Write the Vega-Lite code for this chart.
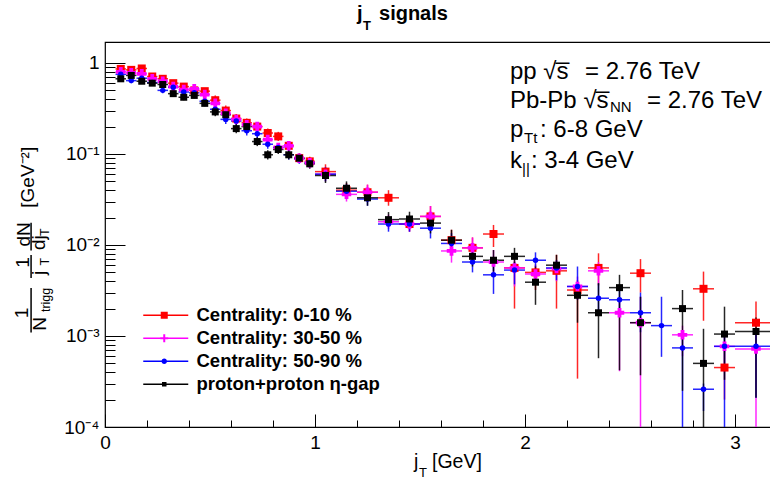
{
  "$schema": "https://vega.github.io/schema/vega-lite/v6.json",
  "width": 667,
  "height": 385,
  "autosize": {"type": "none"},
  "padding": {"left": 105, "top": 42, "right": 0, "bottom": 60},
  "background": "white",
  "config": {
    "view": {"stroke": "black", "strokeWidth": 1.2},
    "text": {"font": "Liberation Sans", "color": "black", "fontWeight": "normal"},
    "legend": {"orient": "none"}
  },
  "resolve": {"scale": {"color": "independent", "shape": "independent"}, "legend": {"color": "independent", "shape": "independent"}},
  "data": {"values": [
    {"s":"Centrality: 0-10 %","x":0.075,"xlo":0.05,"xhi":0.1,"y":0.86,"lo":0.8,"hi":0.92},
    {"s":"Centrality: 0-10 %","x":0.125,"xlo":0.1,"xhi":0.15,"y":0.84,"lo":0.78,"hi":0.9},
    {"s":"Centrality: 0-10 %","x":0.175,"xlo":0.15,"xhi":0.2,"y":0.87,"lo":0.81,"hi":0.93},
    {"s":"Centrality: 0-10 %","x":0.225,"xlo":0.2,"xhi":0.25,"y":0.71,"lo":0.66,"hi":0.76},
    {"s":"Centrality: 0-10 %","x":0.275,"xlo":0.25,"xhi":0.3,"y":0.67,"lo":0.62,"hi":0.72},
    {"s":"Centrality: 0-10 %","x":0.325,"xlo":0.3,"xhi":0.35,"y":0.6,"lo":0.56,"hi":0.64},
    {"s":"Centrality: 0-10 %","x":0.375,"xlo":0.35,"xhi":0.4,"y":0.55,"lo":0.51,"hi":0.59},
    {"s":"Centrality: 0-10 %","x":0.425,"xlo":0.4,"xhi":0.45,"y":0.5,"lo":0.465,"hi":0.535},
    {"s":"Centrality: 0-10 %","x":0.475,"xlo":0.45,"xhi":0.5,"y":0.49,"lo":0.455,"hi":0.525},
    {"s":"Centrality: 0-10 %","x":0.525,"xlo":0.5,"xhi":0.55,"y":0.39,"lo":0.35,"hi":0.44},
    {"s":"Centrality: 0-10 %","x":0.575,"xlo":0.55,"xhi":0.6,"y":0.3,"lo":0.27,"hi":0.34},
    {"s":"Centrality: 0-10 %","x":0.625,"xlo":0.6,"xhi":0.65,"y":0.245,"lo":0.22,"hi":0.275},
    {"s":"Centrality: 0-10 %","x":0.675,"xlo":0.65,"xhi":0.7,"y":0.22,"lo":0.196,"hi":0.246},
    {"s":"Centrality: 0-10 %","x":0.725,"xlo":0.7,"xhi":0.75,"y":0.2,"lo":0.178,"hi":0.224},
    {"s":"Centrality: 0-10 %","x":0.775,"xlo":0.75,"xhi":0.8,"y":0.17,"lo":0.151,"hi":0.19},
    {"s":"Centrality: 0-10 %","x":0.825,"xlo":0.8,"xhi":0.85,"y":0.156,"lo":0.139,"hi":0.175},
    {"s":"Centrality: 0-10 %","x":0.875,"xlo":0.85,"xhi":0.9,"y":0.123,"lo":0.109,"hi":0.138},
    {"s":"Centrality: 0-10 %","x":0.925,"xlo":0.9,"xhi":0.95,"y":0.09,"lo":0.08,"hi":0.101},
    {"s":"Centrality: 0-10 %","x":0.975,"xlo":0.95,"xhi":1.0,"y":0.083,"lo":0.074,"hi":0.093},
    {"s":"Centrality: 0-10 %","x":1.05,"xlo":1.0,"xhi":1.1,"y":0.064,"lo":0.053,"hi":0.077},
    {"s":"Centrality: 0-10 %","x":1.15,"xlo":1.1,"xhi":1.2,"y":0.04,"lo":0.033,"hi":0.048},
    {"s":"Centrality: 0-10 %","x":1.25,"xlo":1.2,"xhi":1.3,"y":0.038,"lo":0.032,"hi":0.046},
    {"s":"Centrality: 0-10 %","x":1.35,"xlo":1.3,"xhi":1.4,"y":0.033,"lo":0.027,"hi":0.04},
    {"s":"Centrality: 0-10 %","x":1.45,"xlo":1.4,"xhi":1.5,"y":0.017,"lo":0.014,"hi":0.0205},
    {"s":"Centrality: 0-10 %","x":1.55,"xlo":1.5,"xhi":1.6,"y":0.0206,"lo":0.0159,"hi":0.0268},
    {"s":"Centrality: 0-10 %","x":1.65,"xlo":1.6,"xhi":1.7,"y":0.0113,"lo":0.0087,"hi":0.0147},
    {"s":"Centrality: 0-10 %","x":1.75,"xlo":1.7,"xhi":1.8,"y":0.0093,"lo":0.0072,"hi":0.0121},
    {"s":"Centrality: 0-10 %","x":1.85,"xlo":1.8,"xhi":1.9,"y":0.0132,"lo":0.0095,"hi":0.0166},
    {"s":"Centrality: 0-10 %","x":1.95,"xlo":1.9,"xhi":2.0,"y":0.0056,"lo":0.002,"hi":0.0066},
    {"s":"Centrality: 0-10 %","x":2.05,"xlo":2.0,"xhi":2.1,"y":0.005,"lo":0.0032,"hi":0.0061},
    {"s":"Centrality: 0-10 %","x":2.15,"xlo":2.1,"xhi":2.2,"y":0.0052,"lo":0.002,"hi":0.0078},
    {"s":"Centrality: 0-10 %","x":2.25,"xlo":2.2,"xhi":2.3,"y":0.0032,"lo":0.00034,"hi":0.0041},
    {"s":"Centrality: 0-10 %","x":2.35,"xlo":2.3,"xhi":2.4,"y":0.0056,"lo":0.0036,"hi":0.0081},
    {"s":"Centrality: 0-10 %","x":2.55,"xlo":2.5,"xhi":2.6,"y":0.0049,"lo":0.003,"hi":0.007},
    {"s":"Centrality: 0-10 %","x":2.85,"xlo":2.8,"xhi":2.9,"y":0.0033,"lo":0.00147,"hi":0.0051},
    {"s":"Centrality: 0-10 %","x":2.95,"xlo":2.9,"xhi":3.0,"y":0.00045,"lo":0.0002,"hi":0.0008},
    {"s":"Centrality: 0-10 %","x":3.1,"xlo":3.0,"xhi":3.2,"y":0.0014,"lo":0.00116,"hi":0.0024},

    {"s":"Centrality: 30-50 %","x":0.075,"xlo":0.05,"xhi":0.1,"y":0.8,"lo":0.74,"hi":0.86},
    {"s":"Centrality: 30-50 %","x":0.125,"xlo":0.1,"xhi":0.15,"y":0.78,"lo":0.73,"hi":0.83},
    {"s":"Centrality: 30-50 %","x":0.175,"xlo":0.15,"xhi":0.2,"y":0.76,"lo":0.71,"hi":0.81},
    {"s":"Centrality: 30-50 %","x":0.225,"xlo":0.2,"xhi":0.25,"y":0.67,"lo":0.62,"hi":0.72},
    {"s":"Centrality: 30-50 %","x":0.275,"xlo":0.25,"xhi":0.3,"y":0.63,"lo":0.59,"hi":0.67},
    {"s":"Centrality: 30-50 %","x":0.325,"xlo":0.3,"xhi":0.35,"y":0.55,"lo":0.51,"hi":0.59},
    {"s":"Centrality: 30-50 %","x":0.375,"xlo":0.35,"xhi":0.4,"y":0.51,"lo":0.47,"hi":0.55},
    {"s":"Centrality: 30-50 %","x":0.425,"xlo":0.4,"xhi":0.45,"y":0.52,"lo":0.48,"hi":0.56},
    {"s":"Centrality: 30-50 %","x":0.475,"xlo":0.45,"xhi":0.5,"y":0.45,"lo":0.42,"hi":0.48},
    {"s":"Centrality: 30-50 %","x":0.525,"xlo":0.5,"xhi":0.55,"y":0.36,"lo":0.32,"hi":0.4},
    {"s":"Centrality: 30-50 %","x":0.575,"xlo":0.55,"xhi":0.6,"y":0.28,"lo":0.25,"hi":0.31},
    {"s":"Centrality: 30-50 %","x":0.625,"xlo":0.6,"xhi":0.65,"y":0.24,"lo":0.214,"hi":0.27},
    {"s":"Centrality: 30-50 %","x":0.675,"xlo":0.65,"xhi":0.7,"y":0.21,"lo":0.187,"hi":0.235},
    {"s":"Centrality: 30-50 %","x":0.725,"xlo":0.7,"xhi":0.75,"y":0.2,"lo":0.178,"hi":0.224},
    {"s":"Centrality: 30-50 %","x":0.775,"xlo":0.75,"xhi":0.8,"y":0.144,"lo":0.128,"hi":0.161},
    {"s":"Centrality: 30-50 %","x":0.825,"xlo":0.8,"xhi":0.85,"y":0.118,"lo":0.105,"hi":0.132},
    {"s":"Centrality: 30-50 %","x":0.875,"xlo":0.85,"xhi":0.9,"y":0.123,"lo":0.109,"hi":0.138},
    {"s":"Centrality: 30-50 %","x":0.925,"xlo":0.9,"xhi":0.95,"y":0.09,"lo":0.08,"hi":0.101},
    {"s":"Centrality: 30-50 %","x":0.975,"xlo":0.95,"xhi":1.0,"y":0.08,"lo":0.071,"hi":0.09},
    {"s":"Centrality: 30-50 %","x":1.05,"xlo":1.0,"xhi":1.1,"y":0.06,"lo":0.05,"hi":0.072},
    {"s":"Centrality: 30-50 %","x":1.15,"xlo":1.1,"xhi":1.2,"y":0.036,"lo":0.03,"hi":0.043},
    {"s":"Centrality: 30-50 %","x":1.25,"xlo":1.2,"xhi":1.3,"y":0.038,"lo":0.032,"hi":0.046},
    {"s":"Centrality: 30-50 %","x":1.35,"xlo":1.3,"xhi":1.4,"y":0.018,"lo":0.015,"hi":0.0216},
    {"s":"Centrality: 30-50 %","x":1.45,"xlo":1.4,"xhi":1.5,"y":0.017,"lo":0.014,"hi":0.0205},
    {"s":"Centrality: 30-50 %","x":1.55,"xlo":1.5,"xhi":1.6,"y":0.0206,"lo":0.0159,"hi":0.0268},
    {"s":"Centrality: 30-50 %","x":1.65,"xlo":1.6,"xhi":1.7,"y":0.0086,"lo":0.0064,"hi":0.0111},
    {"s":"Centrality: 30-50 %","x":1.75,"xlo":1.7,"xhi":1.8,"y":0.0093,"lo":0.0072,"hi":0.0121},
    {"s":"Centrality: 30-50 %","x":1.85,"xlo":1.8,"xhi":1.9,"y":0.0065,"lo":0.0045,"hi":0.0088},
    {"s":"Centrality: 30-50 %","x":1.95,"xlo":1.9,"xhi":2.0,"y":0.0056,"lo":0.0035,"hi":0.0068},
    {"s":"Centrality: 30-50 %","x":2.05,"xlo":2.0,"xhi":2.1,"y":0.0048,"lo":0.004,"hi":0.0058},
    {"s":"Centrality: 30-50 %","x":2.15,"xlo":2.1,"xhi":2.2,"y":0.0055,"lo":0.004,"hi":0.0068},
    {"s":"Centrality: 30-50 %","x":2.25,"xlo":2.2,"xhi":2.3,"y":0.0035,"lo":0.0025,"hi":0.0045},
    {"s":"Centrality: 30-50 %","x":2.35,"xlo":2.3,"xhi":2.4,"y":0.0052,"lo":0.0038,"hi":0.0065},
    {"s":"Centrality: 30-50 %","x":2.45,"xlo":2.4,"xhi":2.5,"y":0.0018,"lo":0.00041,"hi":0.0025},
    {"s":"Centrality: 30-50 %","x":2.55,"xlo":2.5,"xhi":2.6,"y":0.0014,"lo":0.00005,"hi":0.0027},
    {"s":"Centrality: 30-50 %","x":2.75,"xlo":2.7,"xhi":2.8,"y":0.00103,"lo":0.0006,"hi":0.0013},
    {"s":"Centrality: 30-50 %","x":2.95,"xlo":2.9,"xhi":3.0,"y":0.00077,"lo":0.0004,"hi":0.0011},
    {"s":"Centrality: 30-50 %","x":3.1,"xlo":3.0,"xhi":3.2,"y":0.00072,"lo":0.00005,"hi":0.0011},

    {"s":"Centrality: 50-90 %","x":0.075,"xlo":0.05,"xhi":0.1,"y":0.75,"lo":0.7,"hi":0.8},
    {"s":"Centrality: 50-90 %","x":0.125,"xlo":0.1,"xhi":0.15,"y":0.64,"lo":0.6,"hi":0.68},
    {"s":"Centrality: 50-90 %","x":0.175,"xlo":0.15,"xhi":0.2,"y":0.68,"lo":0.63,"hi":0.73},
    {"s":"Centrality: 50-90 %","x":0.225,"xlo":0.2,"xhi":0.25,"y":0.61,"lo":0.57,"hi":0.65},
    {"s":"Centrality: 50-90 %","x":0.275,"xlo":0.25,"xhi":0.3,"y":0.5,"lo":0.465,"hi":0.535},
    {"s":"Centrality: 50-90 %","x":0.325,"xlo":0.3,"xhi":0.35,"y":0.54,"lo":0.5,"hi":0.58},
    {"s":"Centrality: 50-90 %","x":0.375,"xlo":0.35,"xhi":0.4,"y":0.48,"lo":0.45,"hi":0.51},
    {"s":"Centrality: 50-90 %","x":0.425,"xlo":0.4,"xhi":0.45,"y":0.47,"lo":0.44,"hi":0.5},
    {"s":"Centrality: 50-90 %","x":0.475,"xlo":0.45,"xhi":0.5,"y":0.38,"lo":0.35,"hi":0.41},
    {"s":"Centrality: 50-90 %","x":0.525,"xlo":0.5,"xhi":0.55,"y":0.31,"lo":0.28,"hi":0.35},
    {"s":"Centrality: 50-90 %","x":0.575,"xlo":0.55,"xhi":0.6,"y":0.24,"lo":0.214,"hi":0.27},
    {"s":"Centrality: 50-90 %","x":0.625,"xlo":0.6,"xhi":0.65,"y":0.23,"lo":0.205,"hi":0.26},
    {"s":"Centrality: 50-90 %","x":0.675,"xlo":0.65,"xhi":0.7,"y":0.18,"lo":0.16,"hi":0.2},
    {"s":"Centrality: 50-90 %","x":0.725,"xlo":0.7,"xhi":0.75,"y":0.167,"lo":0.149,"hi":0.187},
    {"s":"Centrality: 50-90 %","x":0.775,"xlo":0.75,"xhi":0.8,"y":0.128,"lo":0.114,"hi":0.143},
    {"s":"Centrality: 50-90 %","x":0.825,"xlo":0.8,"xhi":0.85,"y":0.118,"lo":0.105,"hi":0.132},
    {"s":"Centrality: 50-90 %","x":0.875,"xlo":0.85,"xhi":0.9,"y":0.098,"lo":0.087,"hi":0.11},
    {"s":"Centrality: 50-90 %","x":0.925,"xlo":0.9,"xhi":0.95,"y":0.088,"lo":0.078,"hi":0.099},
    {"s":"Centrality: 50-90 %","x":0.975,"xlo":0.95,"xhi":1.0,"y":0.08,"lo":0.071,"hi":0.09},
    {"s":"Centrality: 50-90 %","x":1.05,"xlo":1.0,"xhi":1.1,"y":0.06,"lo":0.05,"hi":0.072},
    {"s":"Centrality: 50-90 %","x":1.15,"xlo":1.1,"xhi":1.2,"y":0.039,"lo":0.032,"hi":0.047},
    {"s":"Centrality: 50-90 %","x":1.25,"xlo":1.2,"xhi":1.3,"y":0.032,"lo":0.027,"hi":0.038},
    {"s":"Centrality: 50-90 %","x":1.35,"xlo":1.3,"xhi":1.4,"y":0.017,"lo":0.014,"hi":0.0204},
    {"s":"Centrality: 50-90 %","x":1.45,"xlo":1.4,"xhi":1.5,"y":0.017,"lo":0.014,"hi":0.0204},
    {"s":"Centrality: 50-90 %","x":1.55,"xlo":1.5,"xhi":1.6,"y":0.0153,"lo":0.0118,"hi":0.0199},
    {"s":"Centrality: 50-90 %","x":1.65,"xlo":1.6,"xhi":1.7,"y":0.0104,"lo":0.008,"hi":0.0135},
    {"s":"Centrality: 50-90 %","x":1.75,"xlo":1.7,"xhi":1.8,"y":0.0065,"lo":0.005,"hi":0.0085},
    {"s":"Centrality: 50-90 %","x":1.85,"xlo":1.8,"xhi":1.9,"y":0.0047,"lo":0.0029,"hi":0.0065},
    {"s":"Centrality: 50-90 %","x":1.95,"xlo":1.9,"xhi":2.0,"y":0.0053,"lo":0.0037,"hi":0.0065},
    {"s":"Centrality: 50-90 %","x":2.05,"xlo":2.0,"xhi":2.1,"y":0.0068,"lo":0.0057,"hi":0.0083},
    {"s":"Centrality: 50-90 %","x":2.15,"xlo":2.1,"xhi":2.2,"y":0.0056,"lo":0.0041,"hi":0.0068},
    {"s":"Centrality: 50-90 %","x":2.25,"xlo":2.2,"xhi":2.3,"y":0.0035,"lo":0.0025,"hi":0.0058},
    {"s":"Centrality: 50-90 %","x":2.35,"xlo":2.3,"xhi":2.4,"y":0.0026,"lo":0.0017,"hi":0.0038},
    {"s":"Centrality: 50-90 %","x":2.45,"xlo":2.4,"xhi":2.5,"y":0.0025,"lo":0.0019,"hi":0.0032},
    {"s":"Centrality: 50-90 %","x":2.55,"xlo":2.5,"xhi":2.6,"y":0.0018,"lo":0.0011,"hi":0.003},
    {"s":"Centrality: 50-90 %","x":2.65,"xlo":2.6,"xhi":2.7,"y":0.0013,"lo":0.00059,"hi":0.0027},
    {"s":"Centrality: 50-90 %","x":2.75,"xlo":2.7,"xhi":2.8,"y":0.00074,"lo":0.00005,"hi":0.0011},
    {"s":"Centrality: 50-90 %","x":2.85,"xlo":2.8,"xhi":2.9,"y":0.00026,"lo":0.00015,"hi":0.0003},
    {"s":"Centrality: 50-90 %","x":2.95,"xlo":2.9,"xhi":3.0,"y":0.00077,"lo":0.00005,"hi":0.0011},
    {"s":"Centrality: 50-90 %","x":3.1,"xlo":3.0,"xhi":3.2,"y":0.00077,"lo":0.00021,"hi":0.0011},

    {"s":"proton+proton η-gap","x":0.075,"xlo":0.05,"xhi":0.1,"y":0.67,"lo":0.62,"hi":0.72},
    {"s":"proton+proton η-gap","x":0.125,"xlo":0.1,"xhi":0.15,"y":0.73,"lo":0.68,"hi":0.78},
    {"s":"proton+proton η-gap","x":0.175,"xlo":0.15,"xhi":0.2,"y":0.63,"lo":0.59,"hi":0.67},
    {"s":"proton+proton η-gap","x":0.225,"xlo":0.2,"xhi":0.25,"y":0.6,"lo":0.56,"hi":0.64},
    {"s":"proton+proton η-gap","x":0.275,"xlo":0.25,"xhi":0.3,"y":0.58,"lo":0.54,"hi":0.62},
    {"s":"proton+proton η-gap","x":0.325,"xlo":0.3,"xhi":0.35,"y":0.46,"lo":0.43,"hi":0.49},
    {"s":"proton+proton η-gap","x":0.375,"xlo":0.35,"xhi":0.4,"y":0.42,"lo":0.39,"hi":0.45},
    {"s":"proton+proton η-gap","x":0.425,"xlo":0.4,"xhi":0.45,"y":0.44,"lo":0.41,"hi":0.47},
    {"s":"proton+proton η-gap","x":0.475,"xlo":0.45,"xhi":0.5,"y":0.36,"lo":0.335,"hi":0.385},
    {"s":"proton+proton η-gap","x":0.525,"xlo":0.5,"xhi":0.55,"y":0.29,"lo":0.26,"hi":0.325},
    {"s":"proton+proton η-gap","x":0.575,"xlo":0.55,"xhi":0.6,"y":0.27,"lo":0.24,"hi":0.3},
    {"s":"proton+proton η-gap","x":0.625,"xlo":0.6,"xhi":0.65,"y":0.19,"lo":0.169,"hi":0.213},
    {"s":"proton+proton η-gap","x":0.675,"xlo":0.65,"xhi":0.7,"y":0.2,"lo":0.178,"hi":0.224},
    {"s":"proton+proton η-gap","x":0.725,"xlo":0.7,"xhi":0.75,"y":0.137,"lo":0.122,"hi":0.153},
    {"s":"proton+proton η-gap","x":0.775,"xlo":0.75,"xhi":0.8,"y":0.098,"lo":0.087,"hi":0.11},
    {"s":"proton+proton η-gap","x":0.825,"xlo":0.8,"xhi":0.85,"y":0.112,"lo":0.1,"hi":0.125},
    {"s":"proton+proton η-gap","x":0.875,"xlo":0.85,"xhi":0.9,"y":0.098,"lo":0.087,"hi":0.11},
    {"s":"proton+proton η-gap","x":0.925,"xlo":0.9,"xhi":0.95,"y":0.09,"lo":0.08,"hi":0.101},
    {"s":"proton+proton η-gap","x":0.975,"xlo":0.95,"xhi":1.0,"y":0.078,"lo":0.069,"hi":0.087},
    {"s":"proton+proton η-gap","x":1.05,"xlo":1.0,"xhi":1.1,"y":0.058,"lo":0.048,"hi":0.07},
    {"s":"proton+proton η-gap","x":1.15,"xlo":1.1,"xhi":1.2,"y":0.042,"lo":0.035,"hi":0.05},
    {"s":"proton+proton η-gap","x":1.25,"xlo":1.2,"xhi":1.3,"y":0.033,"lo":0.027,"hi":0.04},
    {"s":"proton+proton η-gap","x":1.35,"xlo":1.3,"xhi":1.4,"y":0.019,"lo":0.016,"hi":0.023},
    {"s":"proton+proton η-gap","x":1.45,"xlo":1.4,"xhi":1.5,"y":0.0193,"lo":0.016,"hi":0.0232},
    {"s":"proton+proton η-gap","x":1.55,"xlo":1.5,"xhi":1.6,"y":0.0174,"lo":0.0134,"hi":0.0226},
    {"s":"proton+proton η-gap","x":1.65,"xlo":1.6,"xhi":1.7,"y":0.0113,"lo":0.0087,"hi":0.0147},
    {"s":"proton+proton η-gap","x":1.75,"xlo":1.7,"xhi":1.8,"y":0.0075,"lo":0.0058,"hi":0.0098},
    {"s":"proton+proton η-gap","x":1.85,"xlo":1.8,"xhi":1.9,"y":0.0068,"lo":0.0051,"hi":0.0088},
    {"s":"proton+proton η-gap","x":1.95,"xlo":1.9,"xhi":2.0,"y":0.0075,"lo":0.0057,"hi":0.0093},
    {"s":"proton+proton η-gap","x":2.05,"xlo":2.0,"xhi":2.1,"y":0.0039,"lo":0.0022,"hi":0.0058},
    {"s":"proton+proton η-gap","x":2.15,"xlo":2.1,"xhi":2.2,"y":0.006,"lo":0.005,"hi":0.0078},
    {"s":"proton+proton η-gap","x":2.25,"xlo":2.2,"xhi":2.3,"y":0.0028,"lo":0.0014,"hi":0.0034},
    {"s":"proton+proton η-gap","x":2.35,"xlo":2.3,"xhi":2.4,"y":0.0018,"lo":0.00057,"hi":0.0038},
    {"s":"proton+proton η-gap","x":2.45,"xlo":2.4,"xhi":2.5,"y":0.0034,"lo":0.00042,"hi":0.0047},
    {"s":"proton+proton η-gap","x":2.55,"xlo":2.5,"xhi":2.6,"y":0.0014,"lo":0.00037,"hi":0.0027},
    {"s":"proton+proton η-gap","x":2.75,"xlo":2.7,"xhi":2.8,"y":0.002,"lo":0.00025,"hi":0.0032},
    {"s":"proton+proton η-gap","x":2.85,"xlo":2.8,"xhi":2.9,"y":0.0005,"lo":0.00005,"hi":0.0012},
    {"s":"proton+proton η-gap","x":2.95,"xlo":2.9,"xhi":3.0,"y":0.00105,"lo":0.00033,"hi":0.0021},
    {"s":"proton+proton η-gap","x":3.1,"xlo":3.0,"xhi":3.2,"y":0.00112,"lo":0.00021,"hi":0.0016}
  ]},
  "layer": [
    {
      "mark": {"type": "rule", "clip": true, "strokeWidth": 1.5, "opacity": 0.85},
      "encoding": {
        "x": {"field": "x", "type": "quantitative",
          "scale": {"domain": [0, 3.17619], "nice": false, "zero": false},
          "axis": {
            "values": [0,0.2,0.4,0.6,0.8,1,1.2,1.4,1.6,1.8,2,2.2,2.4,2.6,2.8,3],
            "labelExpr": "datum.value % 1 === 0 ? format(datum.value, 'd') : ''",
            "title": null, "grid": false, "domain": false,
            "tickColor": "black", "tickWidth": 1,
            "tickSize": {"condition": {"test": "datum.value % 1 === 0", "value": -13}, "value": -7},
            "labelPadding": 19, "labelFont": "Liberation Sans", "labelFontSize": 19,
            "labelColor": "black", "labelFlush": false, "labelOverlap": false
          }},
        "y": {"field": "lo", "type": "quantitative",
          "scale": {"type": "log", "domain": [0.0001, 1.7], "nice": false},
          "axis": {
            "values": [0.0001,0.0002,0.0003,0.0004,0.0005,0.0006,0.0007,0.0008,0.0009,0.001,0.002,0.003,0.004,0.005,0.006,0.007,0.008,0.009,0.01,0.02,0.03,0.04,0.05,0.06,0.07,0.08,0.09,0.1,0.2,0.3,0.4,0.5,0.6,0.7,0.8,0.9,1],
            "labelExpr": "datum.value === 1 ? '1' : datum.value === 0.1 ? '10⁻¹' : datum.value === 0.01 ? '10⁻²' : datum.value === 0.001 ? '10⁻³' : datum.value === 0.0001 ? '10⁻⁴' : ''",
            "title": null, "grid": false, "domain": false,
            "tickColor": "black", "tickWidth": 1,
            "tickSize": {"condition": {"test": "datum.value === 1 || datum.value === 0.1 || datum.value === 0.01 || datum.value === 0.001 || datum.value === 0.0001", "value": -20}, "value": -10},
            "labelPadding": 26, "labelFont": "Liberation Sans", "labelFontSize": 19,
            "labelColor": "black", "labelFlush": false, "labelOverlap": false
          }},
        "y2": {"field": "hi"},
        "color": {"field": "s", "type": "nominal",
          "scale": {"domain": ["Centrality: 0-10 %", "Centrality: 30-50 %", "Centrality: 50-90 %", "proton+proton η-gap"],
                    "range": ["#ff0000", "#ff00ff", "#0000ff", "#000000"]},
          "legend": null}
      }
    },
    {
      "mark": {"type": "rule", "clip": true, "strokeWidth": 1.5, "opacity": 0.85},
      "encoding": {
        "x": {"field": "xlo", "type": "quantitative"},
        "x2": {"field": "xhi"},
        "y": {"field": "y", "type": "quantitative"},
        "color": {"field": "s", "type": "nominal",
          "scale": {"domain": ["Centrality: 0-10 %", "Centrality: 30-50 %", "Centrality: 50-90 %", "proton+proton η-gap"],
                    "range": ["#ff0000", "#ff00ff", "#0000ff", "#000000"]},
          "legend": null}
      }
    },
    {
      "transform": [{"filter": "datum.s === 'Centrality: 0-10 %'"}],
      "mark": {"type": "point", "shape": "square", "size": 64, "filled": true, "opacity": 1, "color": "#ff0000", "clip": true},
      "encoding": {"x": {"field": "x", "type": "quantitative"}, "y": {"field": "y", "type": "quantitative"}}
    },
    {
      "transform": [{"filter": "datum.s === 'Centrality: 30-50 %'"}],
      "mark": {"type": "point", "shape": "cross", "size": 90, "filled": true, "opacity": 1, "color": "#ff00ff", "clip": true},
      "encoding": {"x": {"field": "x", "type": "quantitative"}, "y": {"field": "y", "type": "quantitative"}}
    },
    {
      "transform": [{"filter": "datum.s === 'Centrality: 50-90 %'"}],
      "mark": {"type": "point", "shape": "circle", "size": 30, "filled": true, "opacity": 1, "color": "#0000ff", "clip": true},
      "encoding": {"x": {"field": "x", "type": "quantitative"}, "y": {"field": "y", "type": "quantitative"}}
    },
    {
      "transform": [{"filter": "datum.s === 'proton+proton η-gap'"}],
      "mark": {"type": "point", "shape": "square", "size": 49, "filled": true, "opacity": 1, "color": "#000000", "clip": true},
      "encoding": {"x": {"field": "x", "type": "quantitative"}, "y": {"field": "y", "type": "quantitative"}}
    },
    {
      "data": {"values": [{"s": "Centrality: 0-10 %"}, {"s": "Centrality: 30-50 %"}, {"s": "Centrality: 50-90 %"}, {"s": "proton+proton η-gap"}]},
      "mark": {"type": "point", "filled": true, "opacity": 1, "clip": true},
      "encoding": {
        "x": {"datum": 10},
        "y": {"datum": 1},
        "color": {"field": "s", "type": "nominal",
          "scale": {"domain": ["Centrality: 0-10 %", "Centrality: 30-50 %", "Centrality: 50-90 %", "proton+proton η-gap"],
                    "range": ["#ff0000", "#ff00ff", "#0000ff", "#000000"]},
          "legend": {
            "title": null, "orient": "none", "legendX": 67, "legendY": 264,
            "padding": 0, "labelFont": "Liberation Sans", "labelFontSize": 18.5, "labelFontWeight": "bold",
            "labelColor": "black", "labelLimit": 0, "symbolSize": 100, "labelOffset": 6, "rowPadding": 4,
            "symbolStrokeWidth": 0, "symbolOpacity": 1
          }},
        "shape": {"field": "s", "type": "nominal",
          "scale": {"domain": ["Centrality: 0-10 %", "Centrality: 30-50 %", "Centrality: 50-90 %", "proton+proton η-gap"],
                    "range": [
                      "M-7.6,-0.14H1.4V0.14H-7.6Z M-4.1,-0.7H-2.7V0.7H-4.1Z",
                      "M-7.6,-0.14H1.4V0.14H-7.6Z M-3.6,-0.8H-3.2V0.8H-3.6Z M-4.2,-0.22H-2.6V0.22H-4.2Z",
                      "M-7.6,-0.14H1.4V0.14H-7.6Z M-2.85,0A0.55,0.55,0,1,1,-3.95,0A0.55,0.55,0,1,1,-2.85,0Z",
                      "M-7.6,-0.14H1.4V0.14H-7.6Z M-3.85,-0.45H-2.95V0.45H-3.85Z"
                    ]},
          "legend": {
            "title": null, "orient": "none", "legendX": 67, "legendY": 264,
            "padding": 0, "labelFont": "Liberation Sans", "labelFontSize": 18.5, "labelFontWeight": "bold",
            "labelColor": "black", "labelLimit": 0, "symbolSize": 100, "labelOffset": 6, "rowPadding": 4,
            "symbolStrokeWidth": 0, "symbolOpacity": 1
          }}
      }
    },

    {"data": {"values": [{}]}, "mark": {"type": "text", "fontSize": 20, "fontWeight": "bold", "align": "left", "baseline": "alphabetic"},
     "encoding": {"x": {"datum": 1.2}, "y": {"datum": 2.969}, "text": {"value": "j"}}},
    {"data": {"values": [{}]}, "mark": {"type": "text", "fontSize": 13, "fontWeight": "bold", "align": "left", "baseline": "alphabetic"},
     "encoding": {"x": {"datum": 1.2286}, "y": {"datum": 2.305}, "text": {"value": "T"}}},
    {"data": {"values": [{}]}, "mark": {"type": "text", "fontSize": 20, "fontWeight": "bold", "align": "left", "baseline": "alphabetic"},
     "encoding": {"x": {"datum": 1.3048}, "y": {"datum": 2.969}, "text": {"value": "signals"}}},

    {"data": {"values": [{}]}, "mark": {"type": "text", "fontSize": 19.5, "align": "left", "baseline": "alphabetic"},
     "encoding": {"x": {"datum": 1.4714}, "y": {"datum": 0.000035}, "text": {"value": "j"}}},
    {"data": {"values": [{}]}, "mark": {"type": "text", "fontSize": 13, "align": "left", "baseline": "alphabetic"},
     "encoding": {"x": {"datum": 1.4952}, "y": {"datum": 0.0000282}, "text": {"value": "T"}}},
    {"data": {"values": [{}]}, "mark": {"type": "text", "fontSize": 19.5, "align": "left", "baseline": "alphabetic"},
     "encoding": {"x": {"datum": 1.5571}, "y": {"datum": 0.000035}, "text": {"value": "[GeV]"}}},

    {"data": {"values": [{}]}, "mark": {"type": "text", "fontSize": 19, "angle": 270, "align": "center", "baseline": "middle"},
     "encoding": {"x": {"datum": -0.393}, "y": {"datum": 0.00179}, "text": {"value": "1"}}},
    {"data": {"values": [{}]}, "mark": {"type": "rule", "strokeWidth": 1.5, "color": "black"},
     "encoding": {"x": {"datum": -0.352}, "y": {"datum": 0.00337}, "y2": {"datum": 0.00109}}},
    {"data": {"values": [{}]}, "mark": {"type": "text", "fontSize": 19, "angle": 270, "align": "center", "baseline": "middle"},
     "encoding": {"x": {"datum": -0.309}, "y": {"datum": 0.00136}, "text": {"value": "N"}}},
    {"data": {"values": [{}]}, "mark": {"type": "text", "fontSize": 12.5, "angle": 270, "align": "center", "baseline": "middle"},
     "encoding": {"x": {"datum": -0.28}, "y": {"datum": 0.00249}, "text": {"value": "trigg"}}},

    {"data": {"values": [{}]}, "mark": {"type": "text", "fontSize": 19, "angle": 270, "align": "center", "baseline": "middle"},
     "encoding": {"x": {"datum": -0.39}, "y": {"datum": 0.00643}, "text": {"value": "1"}}},
    {"data": {"values": [{}]}, "mark": {"type": "rule", "strokeWidth": 1.5, "color": "black"},
     "encoding": {"x": {"datum": -0.352}, "y": {"datum": 0.00776}, "y2": {"datum": 0.00435}}},
    {"data": {"values": [{}]}, "mark": {"type": "text", "fontSize": 19, "angle": 270, "align": "center", "baseline": "middle"},
     "encoding": {"x": {"datum": -0.313}, "y": {"datum": 0.00495}, "text": {"value": "j"}}},
    {"data": {"values": [{}]}, "mark": {"type": "text", "fontSize": 12.5, "angle": 270, "align": "center", "baseline": "middle"},
     "encoding": {"x": {"datum": -0.285}, "y": {"datum": 0.00655}, "text": {"value": "T"}}},

    {"data": {"values": [{}]}, "mark": {"type": "text", "fontSize": 19, "angle": 270, "align": "center", "baseline": "middle"},
     "encoding": {"x": {"datum": -0.386}, "y": {"datum": 0.0131}, "text": {"value": "dN"}}},
    {"data": {"values": [{}]}, "mark": {"type": "rule", "strokeWidth": 1.5, "color": "black"},
     "encoding": {"x": {"datum": -0.352}, "y": {"datum": 0.0175}, "y2": {"datum": 0.0087}}},
    {"data": {"values": [{}]}, "mark": {"type": "text", "fontSize": 19, "angle": 270, "align": "center", "baseline": "middle"},
     "encoding": {"x": {"datum": -0.313}, "y": {"datum": 0.0106}, "text": {"value": "dj"}}},
    {"data": {"values": [{}]}, "mark": {"type": "text", "fontSize": 12.5, "angle": 270, "align": "center", "baseline": "middle"},
     "encoding": {"x": {"datum": -0.285}, "y": {"datum": 0.0138}, "text": {"value": "T"}}},

    {"data": {"values": [{}]}, "mark": {"type": "text", "fontSize": 19, "angle": 270, "align": "center", "baseline": "middle"},
     "encoding": {"x": {"datum": -0.367}, "y": {"datum": 0.0555}, "text": {"value": "[GeV⁻²]"}}},

    {"data": {"values": [{}]}, "mark": {"type": "text", "fontSize": 24, "align": "left", "baseline": "alphabetic"},
     "encoding": {"x": {"datum": 1.9286}, "y": {"datum": 0.667}, "text": {"value": "pp √s̅"}}},
    {"data": {"values": [{}]}, "mark": {"type": "text", "fontSize": 24, "align": "right", "baseline": "alphabetic"},
     "encoding": {"x": {"datum": 2.8333}, "y": {"datum": 0.667}, "text": {"value": "= 2.76 TeV"}}},
    {"data": {"values": [{}]}, "mark": {"type": "text", "fontSize": 24, "align": "left", "baseline": "alphabetic"},
     "encoding": {"x": {"datum": 1.9286}, "y": {"datum": 0.32}, "text": {"value": "Pb-Pb √s̅"}}},
    {"data": {"values": [{}]}, "mark": {"type": "text", "fontSize": 15, "align": "left", "baseline": "alphabetic"},
     "encoding": {"x": {"datum": 2.4048}, "y": {"datum": 0.2893}, "text": {"value": "NN"}}},
    {"data": {"values": [{}]}, "mark": {"type": "text", "fontSize": 24, "align": "right", "baseline": "alphabetic"},
     "encoding": {"x": {"datum": 3.1286}, "y": {"datum": 0.32}, "text": {"value": "= 2.76 TeV"}}},
    {"data": {"values": [{}]}, "mark": {"type": "text", "fontSize": 24, "align": "left", "baseline": "alphabetic"},
     "encoding": {"x": {"datum": 1.9286}, "y": {"datum": 0.1537}, "text": {"value": "p"}}},
    {"data": {"values": [{}]}, "mark": {"type": "text", "fontSize": 15, "align": "left", "baseline": "alphabetic"},
     "encoding": {"x": {"datum": 1.9952}, "y": {"datum": 0.1321}, "text": {"value": "Tt"}}},
    {"data": {"values": [{}]}, "mark": {"type": "text", "fontSize": 24, "align": "left", "baseline": "alphabetic"},
     "encoding": {"x": {"datum": 2.0714}, "y": {"datum": 0.1537}, "text": {"value": ": 6-8 GeV"}}},
    {"data": {"values": [{}]}, "mark": {"type": "text", "fontSize": 24, "align": "left", "baseline": "alphabetic"},
     "encoding": {"x": {"datum": 1.9286}, "y": {"datum": 0.0702}, "text": {"value": "k"}}},
    {"data": {"values": [{}]}, "mark": {"type": "text", "fontSize": 15, "align": "left", "baseline": "alphabetic"},
     "encoding": {"x": {"datum": 1.9857}, "y": {"datum": 0.0603}, "text": {"value": "||"}}},
    {"data": {"values": [{}]}, "mark": {"type": "text", "fontSize": 24, "align": "left", "baseline": "alphabetic"},
     "encoding": {"x": {"datum": 2.0286}, "y": {"datum": 0.0702}, "text": {"value": ": 3-4 GeV"}}}
  ]
}
